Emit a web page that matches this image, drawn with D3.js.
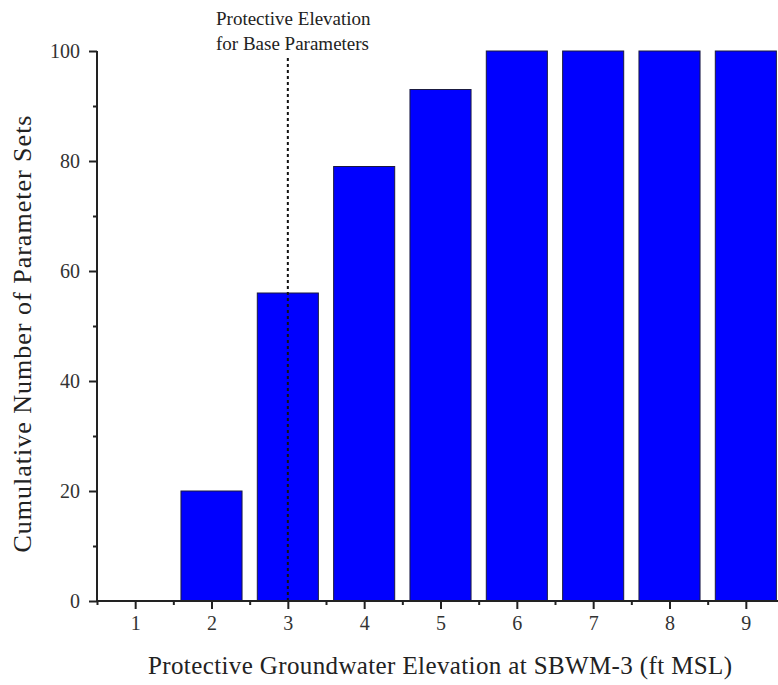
<!DOCTYPE html>
<html><head><meta charset="utf-8">
<script src="https://cdn.jsdelivr.net/npm/d3@7"></script>
<style>body{margin:0;background:#fff;} svg{display:block;}</style>
</head><body>
<svg id="c" width="778" height="685"></svg>
<script>
const categories = [1,2,3,4,5,6,7,8,9];
const values = [0,20,56,79,93,100,100,100,100];
const yTicks = [0,20,40,60,80,100];
const yMinor = [10,30,50,70,90];
const xMinor = [0.5,1.5,2.5,3.5,4.5,5.5,6.5,7.5,8.5,9.5];
const markerX = 3;
const font = "'Liberation Serif', 'DejaVu Serif', serif";

const svg = d3.select('#c');
const x = d3.scaleLinear().domain([0.5, 9.5]).range([97, 784]);
const y = d3.scaleLinear().domain([0, 100]).range([601, 51]);
const bw = (x(2) - x(1)) * 0.8;

svg.append('g').selectAll('rect').data(categories).join('rect')
  .attr('x', (d) => x(d) - bw/2)
  .attr('y', (d,i) => y(values[i]))
  .attr('width', bw)
  .attr('height', (d,i) => y(0) - y(values[i]))
  .attr('fill', '#0000ff')
  .attr('stroke', '#1a1a40')
  .attr('stroke-width', 1);

// marker line
svg.append('line')
  .attr('x1', x(markerX)).attr('x2', x(markerX))
  .attr('y1', 58).attr('y2', y(0))
  .attr('stroke', '#111').attr('stroke-width', 2)
  .attr('stroke-dasharray', '3,3');

// axes
const xAxis = d3.axisBottom(x).tickValues(categories).tickSize(8).tickPadding(7).tickFormat(d3.format('d'));
const gx = svg.append('g').attr('transform', `translate(0,${y(0)})`).call(xAxis);
const gxm = svg.append('g').attr('transform', `translate(0,${y(0)})`)
  .call(d3.axisBottom(x).tickValues(xMinor).tickSize(4).tickFormat(''));
gxm.select('.domain').remove();

const yAxis = d3.axisLeft(y).tickValues(yTicks).tickSize(8).tickPadding(9).tickFormat(d3.format('d'));
const gy = svg.append('g').attr('transform', `translate(${x(0.5)},0)`).call(yAxis);
const gym = svg.append('g').attr('transform', `translate(${x(0.5)},0)`)
  .call(d3.axisLeft(y).tickValues(yMinor).tickSize(4).tickFormat(''));
gym.select('.domain').remove();

[gx, gy, gxm, gym].forEach(g => {
  g.selectAll('path.domain').attr('stroke', '#222').attr('stroke-width', 2);
  g.selectAll('.tick line').attr('stroke', '#222').attr('stroke-width', 2);
  g.selectAll('text').attr('font-family', font).attr('font-size', 20).attr('fill', '#333');
});
gx.select('.domain').attr('d', `M${x(0.5)},0H778`);
gxm.selectAll('.tick').filter(d => d > 9.4).remove();
gy.select('.domain').attr('d', `M0,${y(0)}V${y(100)}`);

// titles
svg.append('text').attr('x', 440).attr('y', 674).attr('text-anchor', 'middle')
  .attr('font-family', font).attr('font-size', 25).attr('fill', '#222')
  .attr('textLength', 584).attr('lengthAdjust', 'spacing')
  .text('Protective Groundwater Elevation at SBWM-3 (ft MSL)');
svg.append('text').attr('transform', 'translate(31,334) rotate(-90)').attr('text-anchor', 'middle')
  .attr('font-family', font).attr('font-size', 26).attr('fill', '#222')
  .attr('textLength', 437).attr('lengthAdjust', 'spacing')
  .text('Cumulative Number of Parameter Sets');
const ann = svg.append('text')
  .attr('font-family', font).attr('font-size', 19).attr('fill', '#222');
ann.append('tspan').attr('x', 216).attr('y', 25).text('Protective Elevation');
ann.append('tspan').attr('x', 216).attr('y', 50).text('for Base Parameters');
</script>
</body></html>
